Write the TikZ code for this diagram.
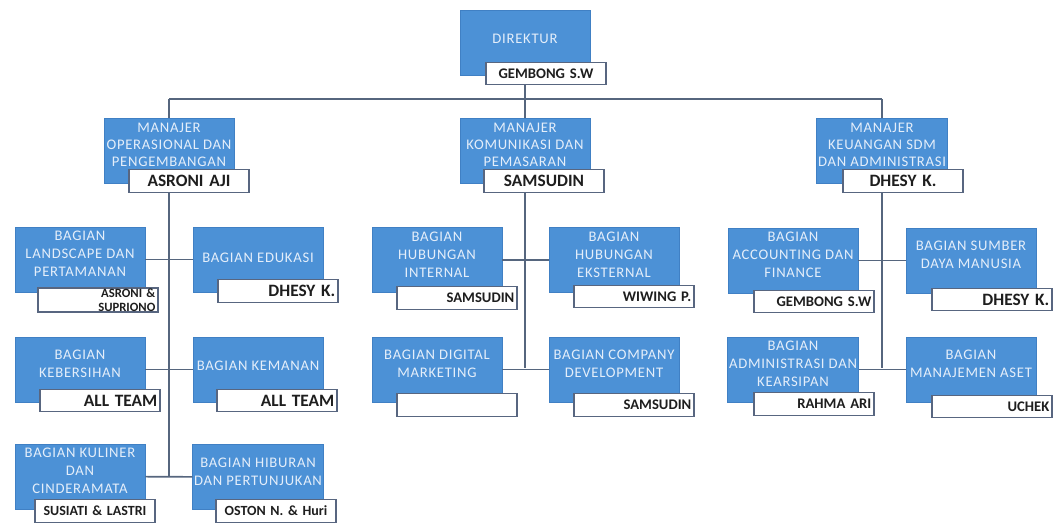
\documentclass[tikz,border=0pt]{standalone}
\usepackage{fontspec}
\setmainfont{Carlito}
\newfontfamily\unitfont[LetterSpace=5]{Carlito}
\begin{document}
\definecolor{unitblue}{RGB}{76,145,214}
\definecolor{unitedge}{RGB}{64,128,196}
\definecolor{unittext}{RGB}{228,238,250}
\definecolor{linkgray}{RGB}{86,102,126}
\definecolor{nameedge}{RGB}{88,102,128}
\definecolor{nametext}{RGB}{30,30,30}
\begin{tikzpicture}[x=0.75pt,y=-0.75pt,
  unitbox/.style={rectangle, fill=unitblue, draw=unitedge, line width=0.4pt,
    minimum width=97.5pt, minimum height=48.75pt, inner sep=1pt,
    text=unittext, align=center, text depth=8.5pt,
    font=\unitfont\fontsize{11}{13.5}\selectfont},
  tagbox/.style={rectangle, fill=white, draw=nameedge, line width=0.9pt,
    minimum height=17pt, inner xsep=2pt, inner ysep=0pt,
    text width=86pt, align=center, text=nametext,
    font=\bfseries\fontsize{11}{12}\selectfont},
  tagboxR/.style={tagbox, align=right},
  bigtag/.style={font=\bfseries\fontsize{13}{14}\selectfont},
  smalltag/.style={font=\bfseries\fontsize{10.5}{12}\selectfont},
  link/.style={draw=linkgray, line width=1.2pt}]
\useasboundingbox (0,0) rectangle (1062,525);

% ---------- director and managers ----------
\node[unitbox, text depth=6pt] (dir) at (525,42.5) {DIREKTUR};
\node[unitbox, font=\unitfont\fontsize{11}{13}\selectfont] (m1) at (169,150.5) {MANAJER\\OPERASIONAL DAN\\PENGEMBANGAN};
\node[unitbox, font=\unitfont\fontsize{11}{13}\selectfont] (m2) at (525,150.5) {MANAJER\\KOMUNIKASI DAN\\PEMASARAN};
\node[unitbox, font=\unitfont\fontsize{11}{13}\selectfont] (m3) at (882,150.5) {MANAJER\\KEUANGAN SDM\\DAN ADMINISTRASI};

% ---------- operations units ----------
\node[unitbox] (l1) at (80,259.5) {BAGIAN\\LANDSCAPE DAN\\PERTAMANAN};
\node[unitbox, text depth=3pt] (l2) at (258,259.5) {BAGIAN EDUKASI};
\node[unitbox] (l3) at (80,369.5) {BAGIAN\\KEBERSIHAN};
\node[unitbox, text depth=6pt] (l4) at (258,369.5) {BAGIAN KEMANAN};
\node[unitbox] (l5) at (80,476.5) {BAGIAN KULINER\\DAN\\CINDERAMATA};
\node[unitbox] (l6) at (258,477) {BAGIAN HIBURAN\\DAN PERTUNJUKAN};

% ---------- communication units ----------
\node[unitbox] (c1) at (437,260) {BAGIAN\\HUBUNGAN\\INTERNAL};
\node[unitbox] (c2) at (614,260) {BAGIAN\\HUBUNGAN\\EKSTERNAL};
\node[unitbox] (c3) at (437,369.5) {BAGIAN DIGITAL\\MARKETING};
\node[unitbox] (c4) at (614,369.5) {BAGIAN COMPANY\\DEVELOPMENT};

% ---------- finance units ----------
\node[unitbox] (f1) at (793,260.5) {BAGIAN\\ACCOUNTING DAN\\FINANCE};
\node[unitbox] (f2) at (971,260.5) {BAGIAN SUMBER\\DAYA MANUSIA};
\node[unitbox] (f3) at (793,369.5) {BAGIAN\\ADMINISTRASI DAN\\KEARSIPAN};
\node[unitbox] (f4) at (971,369.5) {BAGIAN\\MANAJEMEN ASET};

% ---------- connectors ----------
\coordinate (busL) at (169,99);
\coordinate (busC) at (525,99);
\coordinate (busR) at (882,99);
\coordinate (endL) at (169,477);
\coordinate (endC) at (525,368);
\coordinate (endR) at (882,368);

\draw[link] (dir) -- (busC);
\draw[link] (busL) -- (busR);
\draw[link] (busL) -- (m1);
\draw[link] (busC) -- (m2);
\draw[link] (busR) -- (m3);
\draw[link] (m1) -- (endL);
\draw[link] (m2) -- (endC);
\draw[link] (m3) -- (endR);

\draw[link] (l1) -- (l2);
\draw[link] (l3) -- (l4);
\draw[link] (l5) -- (l6);
\draw[link] (c1) -- (c2);
\draw[link] (c3) -- (c4);
\draw[link] (f1) -- (f2);
\draw[link] (f3) -- (f4);

% ---------- name tags ----------
\node[tagbox] (dirn) at (546,73.5) {GEMBONG S.W};
\node[tagbox,bigtag] (m1n) at (189,181) {ASRONI AJI};
\node[tagbox,bigtag] (m2n) at (544,181) {SAMSUDIN};
\node[tagbox,bigtag] (m3n) at (903,181) {DHESY K.};

\node[tagboxR, minimum height=18pt, font=\bfseries\fontsize{9.5}{10.5}\selectfont] (l1n) at (98,300) {ASRONI \&\\SUPRIONO};
\node[tagboxR,bigtag] (l2n) at (278,291) {DHESY K.};
\node[tagboxR,bigtag] (l3n) at (100,400.5) {ALL TEAM};
\node[tagboxR,bigtag] (l4n) at (277,400.5) {ALL TEAM};
\node[tagbox,smalltag] (l5n) at (95,511) {SUSIATI \& LASTRI};
\node[tagbox,smalltag] (l6n) at (276,511) {OSTON N. \& Huri};

\node[tagboxR] (c1n) at (457,298) {SAMSUDIN};
\node[tagboxR] (c2n) at (634,296.5) {WIWING P.};
\node[tagboxR] (c3n) at (457,405) {};
\node[tagboxR] (c4n) at (634,405) {SAMSUDIN};

\node[tagboxR] (f1n) at (814,301.5) {GEMBONG S.W};
\node[tagboxR,bigtag] (f2n) at (992,299.5) {DHESY K.};
\node[tagboxR] (f3n) at (814,404) {RAHMA ARI};
\node[tagboxR] (f4n) at (992,406.5) {UCHEK};
\end{tikzpicture}
\end{document}
